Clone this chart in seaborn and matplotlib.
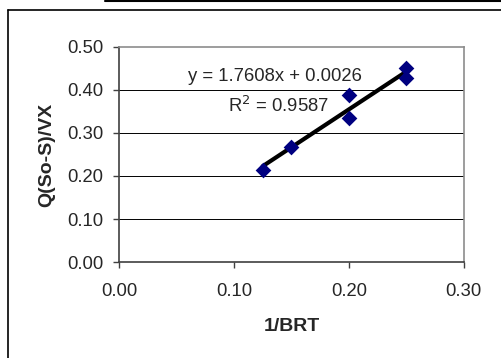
import numpy as np
import pandas as pd
import matplotlib
matplotlib.use("Agg")
import matplotlib.pyplot as plt
from matplotlib.lines import Line2D
import seaborn as sns

# data
inv_brt = [0.125, 0.150, 0.200, 0.200, 0.250, 0.250]
q_ratio = [0.215, 0.268, 0.388, 0.335, 0.450, 0.427]
fit_slope = 1.7608
fit_intercept = 0.0026
r_squared = 0.9587
x_ticks = [0.0, 0.1, 0.2, 0.3]
y_ticks = [0.0, 0.1, 0.2, 0.3, 0.4, 0.5]

df = pd.DataFrame({"x": inv_brt, "y": q_ratio})
x_fit = np.array([min(inv_brt), max(inv_brt)])
fit_df = pd.DataFrame({"x": x_fit, "y": fit_slope * x_fit + fit_intercept})

sns.set_style("white")
plt.rcParams["font.family"] = ["Liberation Sans", "DejaVu Sans"]

fig = plt.figure(figsize=(5.02, 3.58), dpi=100)
ax = fig.add_axes([0.237, 0.268, 0.687, 0.601])

for yv in y_ticks[1:-1]:
    ax.axhline(yv, color="black", linewidth=0.7, zorder=0)

sns.lineplot(data=fit_df, x="x", y="y", color="black", linewidth=3, ax=ax, zorder=2)
sns.scatterplot(data=df, x="x", y="y", marker="D", s=64, color="#000080",
                linewidth=0, ax=ax, zorder=3)

ax.set_xlim(x_ticks[0], x_ticks[-1])
ax.set_ylim(y_ticks[0], y_ticks[-1])
ax.set_xticks(x_ticks)
ax.set_yticks(y_ticks)
ax.set_xticklabels([f"{v:.2f}" for v in x_ticks])
ax.set_yticklabels([f"{v:.2f}" for v in y_ticks])
ax.tick_params(axis="both", direction="out", length=4, width=1, labelsize=13.3,
               color="#404040", left=True, bottom=True)
ax.tick_params(axis="x", pad=11)
ax.tick_params(axis="y", pad=7)

for side in ["left", "bottom"]:
    ax.spines[side].set_color("#404040")
    ax.spines[side].set_linewidth(1.2)
for side in ["top", "right"]:
    ax.spines[side].set_color("#8c8c8c")
    ax.spines[side].set_linewidth(1.2)

ax.set_xlabel("1/BRT", fontsize=14, fontweight="bold", labelpad=13)
ax.set_ylabel("Q(So-S)/VX", fontsize=14, fontweight="bold", labelpad=9)

ax.text(0.452, 0.861, f"y = {fit_slope:.4f}x + {fit_intercept:.4f}",
        transform=ax.transAxes, ha="center", va="center", fontsize=13.3)
ax.text(0.464, 0.726, f"R$^2$ = {r_squared:.4f}",
        transform=ax.transAxes, ha="center", va="center", fontsize=13.3)

# outer chart frame and the rule at the top of the page
fig.add_artist(Line2D([8 / 502, 8 / 502], [0, 1 - 10 / 358], color="black", linewidth=1.2))
fig.add_artist(Line2D([8 / 502, 1], [1 - 10 / 358, 1 - 10 / 358], color="black", linewidth=1.2))
fig.add_artist(Line2D([105 / 502, 1], [1 - 1 / 358, 1 - 1 / 358], color="black", linewidth=1.5))

fig.savefig("out.png", dpi=100)
